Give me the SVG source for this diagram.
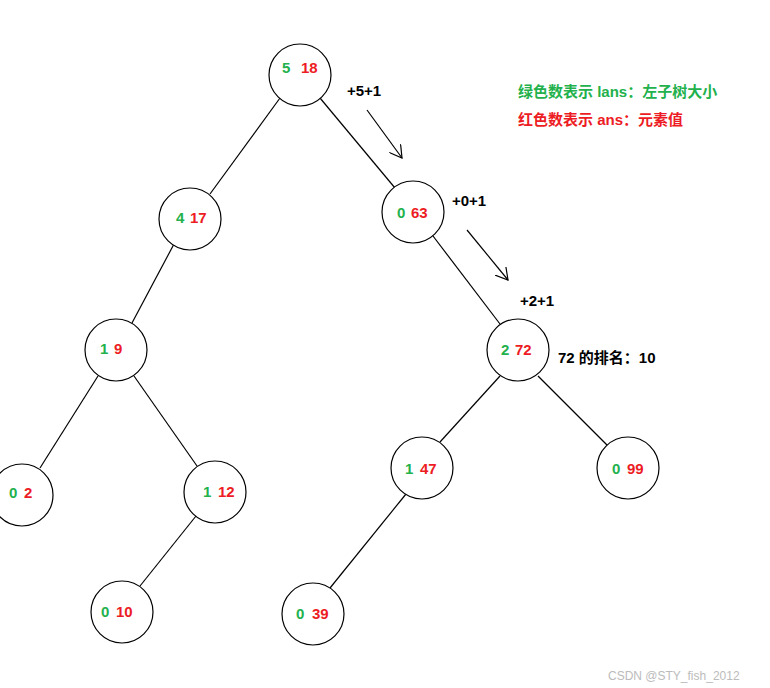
<svg xmlns="http://www.w3.org/2000/svg" width="770" height="688" viewBox="0 0 770 688">
<style>
circle{fill:#fff;stroke:#000;stroke-width:1.2}
text{font-family:"Liberation Sans","Noto Sans CJK SC",sans-serif;font-weight:bold;font-size:15px}
.g{fill:#22b14c}.r{fill:#ed1c24}.k{fill:#000}
line{stroke:#000;stroke-width:1.2}
</style>
<defs><marker id="a" markerWidth="14" markerHeight="14" refX="12" refY="7" orient="auto" markerUnits="userSpaceOnUse"><path d="M0,0 L12,7 L0,14" fill="none" stroke="#000" stroke-width="1.2"/></marker></defs>
<rect width="770" height="688" fill="#fff"/>
<g id="connectors">
<line x1="280" y1="98" x2="210" y2="194"/>
<line x1="320" y1="98" x2="395" y2="188"/>
<line x1="174" y1="244" x2="132" y2="323"/>
<line x1="433" y1="236" x2="500" y2="324"/>
<line x1="98" y1="376" x2="40" y2="468"/>
<line x1="134" y1="376" x2="197" y2="466"/>
<line x1="196" y1="516" x2="140" y2="586"/>
<line x1="500" y1="376" x2="440" y2="442"/>
<line x1="538" y1="376" x2="608" y2="446"/>
<line x1="406" y1="494" x2="330" y2="588"/>
<line x1="367" y1="110" x2="402" y2="158" marker-end="url(#a)"/>
<line x1="467" y1="230" x2="508" y2="280" marker-end="url(#a)"/>
</g>
<g id="n18"><circle cx="300" cy="75" r="31"/><text x="282" y="73" class="g">5</text><text x="301" y="73" class="r">18</text></g>
<g id="n17"><circle cx="190" cy="219" r="31"/><text x="176" y="223" class="g">4</text><text x="190" y="223" class="r">17</text></g>
<g id="n63"><circle cx="413" cy="212" r="31"/><text x="397" y="218" class="g">0</text><text x="411" y="218" class="r">63</text></g>
<g id="n9"><circle cx="116" cy="350" r="31"/><text x="100" y="354" class="g">1</text><text x="114" y="354" class="r">9</text></g>
<g id="n72"><circle cx="518" cy="350" r="31"/><text x="501" y="355" class="g">2</text><text x="515" y="355" class="r">72</text></g>
<g id="n2"><circle cx="22" cy="495" r="31"/><text x="9" y="498" class="g">0</text><text x="24" y="498" class="r">2</text></g>
<g id="n12"><circle cx="215" cy="492" r="31"/><text x="203" y="497" class="g">1</text><text x="218" y="497" class="r">12</text></g>
<g id="n47"><circle cx="422" cy="468" r="31"/><text x="405" y="474" class="g">1</text><text x="420" y="474" class="r">47</text></g>
<g id="n99"><circle cx="628" cy="468" r="31"/><text x="612" y="474" class="g">0</text><text x="627" y="474" class="r">99</text></g>
<g id="n10"><circle cx="122" cy="612" r="31"/><text x="101" y="617" class="g">0</text><text x="116" y="617" class="r">10</text></g>
<g id="n39"><circle cx="313" cy="614" r="31"/><text x="296" y="619" class="g">0</text><text x="312" y="619" class="r">39</text></g>
<text x="347" y="96" class="k">+5+1</text>
<text x="452" y="206" class="k">+0+1</text>
<text x="520" y="306" class="k">+2+1</text>
<text x="558" y="363" class="k">72 的排名：10</text>
<text x="518" y="97" class="g">绿色数表示 lans：左子树大小</text>
<text x="518" y="125" class="r">红色数表示 ans：元素值</text>
<text x="608" y="680" style="font-weight:normal;font-size:12px;fill:#bbb">CSDN @STY_fish_2012</text>
</svg>
